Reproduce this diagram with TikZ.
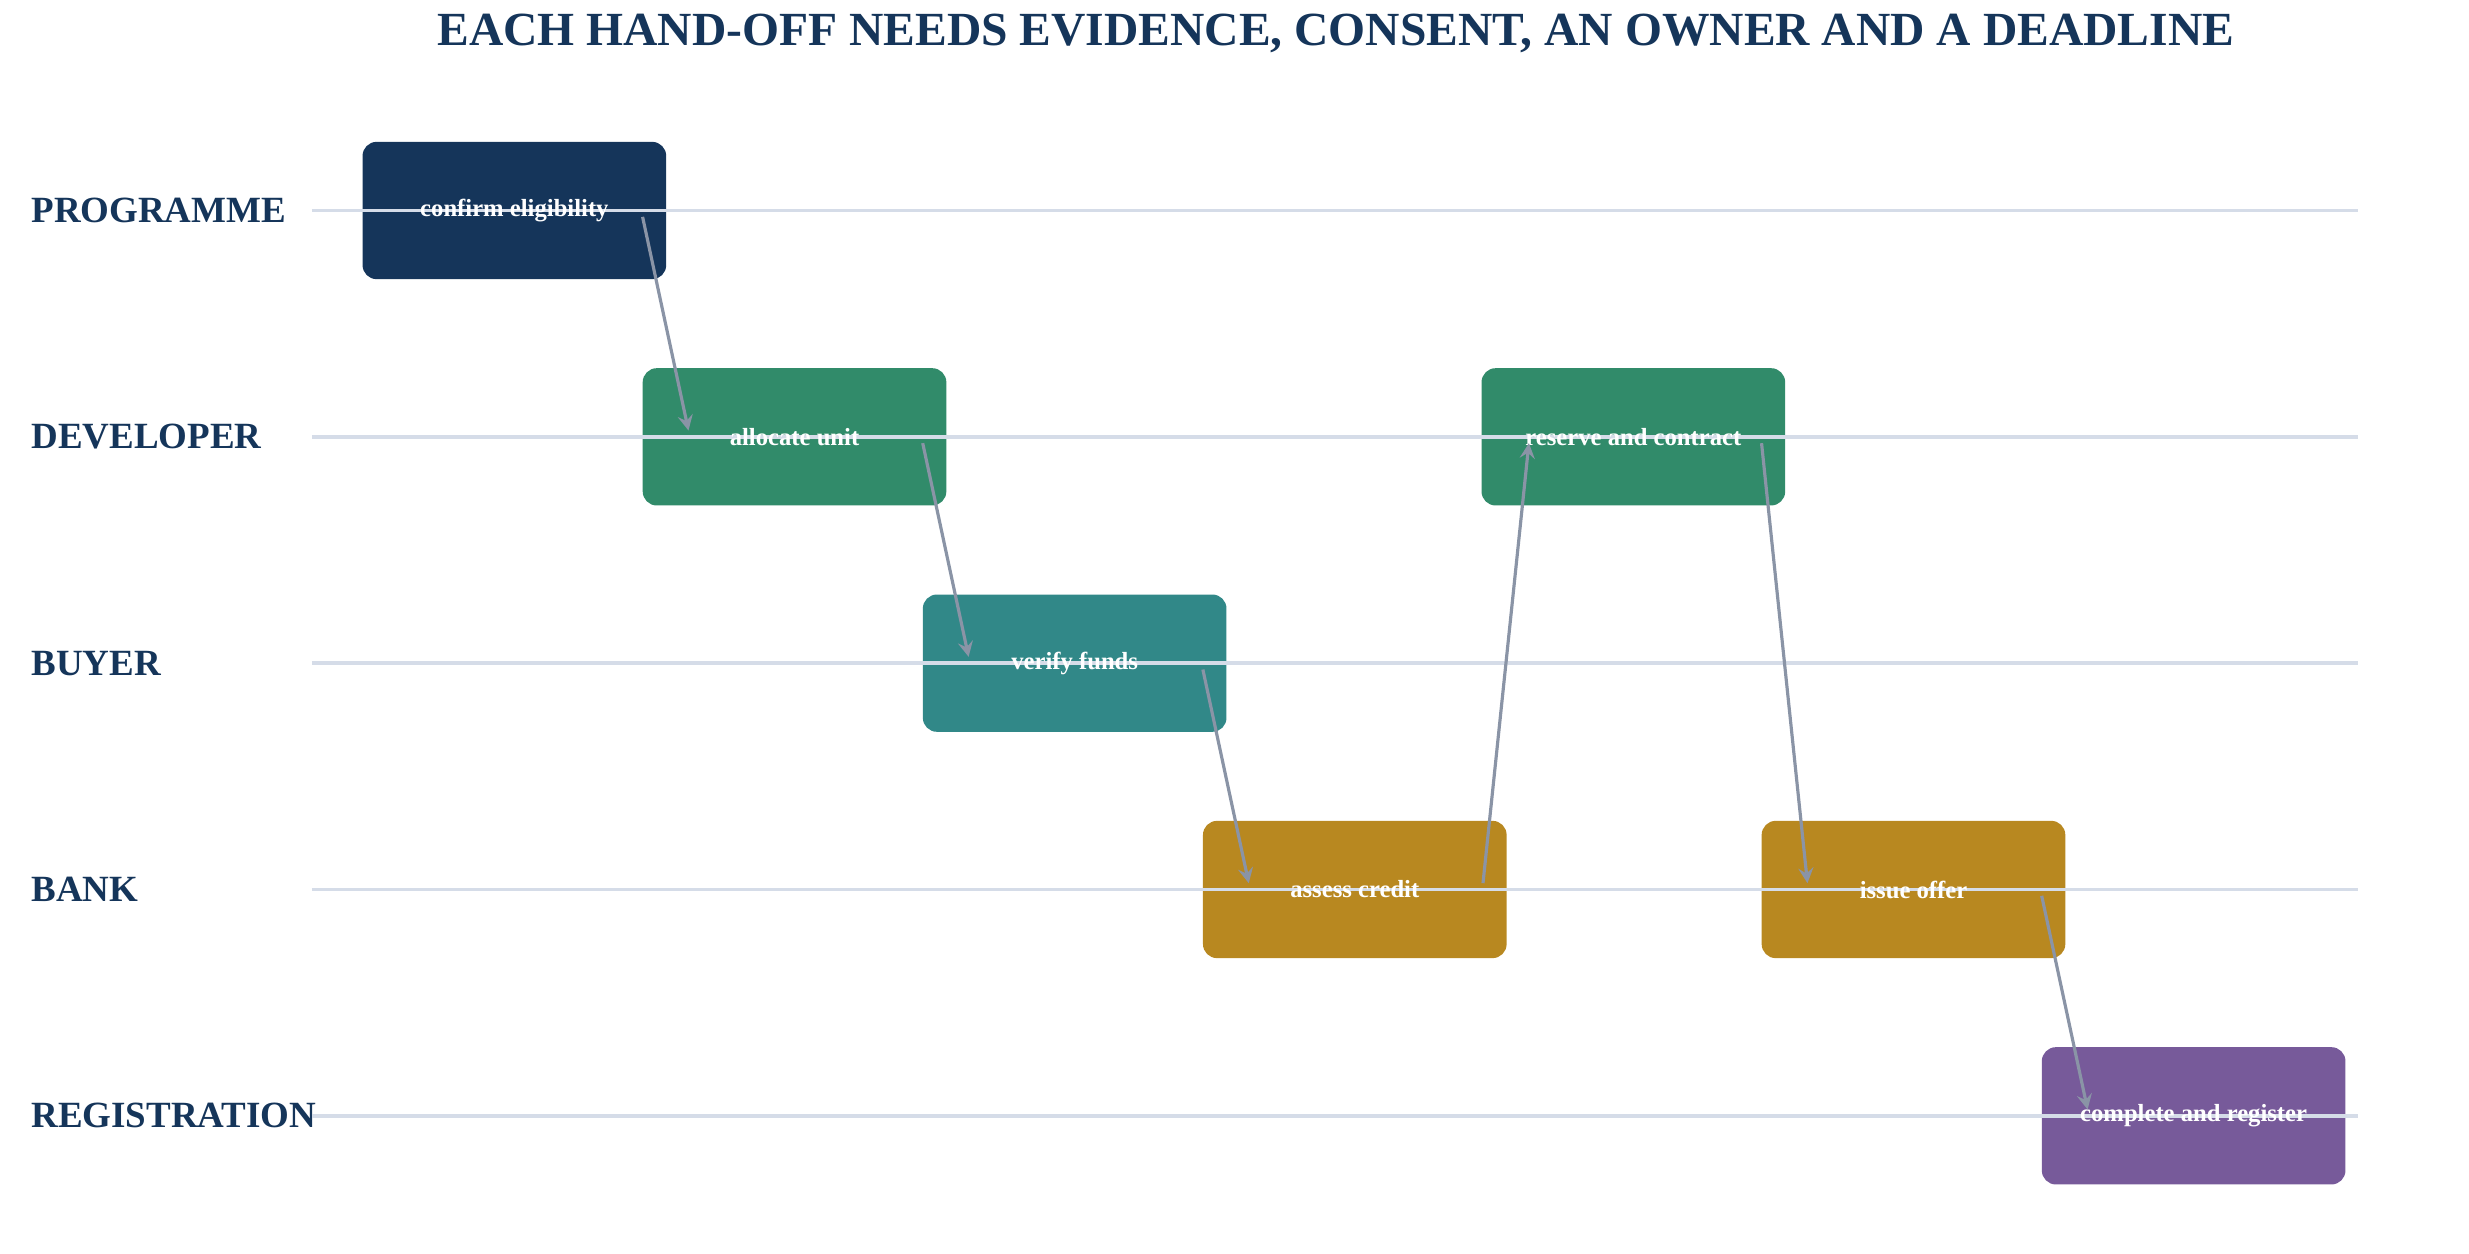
\documentclass[tikz,border=0pt]{standalone}
\usepackage{fontspec}
\setmainfont{Liberation Serif}
\usetikzlibrary{calc,positioning}
\definecolor{navy}{HTML}{15355A}
\definecolor{devgreen}{HTML}{318B6A}
\definecolor{buyteal}{HTML}{318888}
\definecolor{bankgold}{HTML}{B88820}
\definecolor{regpurple}{HTML}{775A9A}
\definecolor{lanegray}{HTML}{D5DCE8}
\definecolor{arrgray}{HTML}{8A94A6}
\tikzset{
  stage/.style={rectangle, rounded corners=4pt, minimum width=3.03cm, minimum height=1.37cm, inner sep=0pt},
  stagetext/.style={text=white, font=\fontsize{7}{8}\selectfont\bfseries},
  lane/.style={anchor=west, text=navy, font=\fontsize{10.5}{12}\selectfont\bfseries},
  laneline/.style={draw=lanegray, line width=1pt},
  hand/.style={->, draw=arrgray, line width=0.9pt, >=stealth},
}
\begin{document}
\begin{tikzpicture}[x=0.0158cm, y=-0.0158cm]
    \useasboundingbox (0,0) rectangle (1560,792);
    \node[text=navy, font=\fontsize{13.5}{16}\selectfont\bfseries] (title) at (844,21) {EACH HAND-OFF NEEDS EVIDENCE, CONSENT, AN OWNER AND A DEADLINE};

    % lanes
    \foreach \name/\y/\txt in {prog/133/PROGRAMME, dev/276/DEVELOPER, buy/419/BUYER, bank/562/BANK, reg/705/REGISTRATION}
      \node[lane] (\name) at (12,\y) {\txt};

    % stages
    \node[stage, fill=navy] (confirm) at (325,133) {};
    \node[stage, fill=devgreen] (allocate) at (502,276) {};
    \node[stage, fill=buyteal] (verify) at (679,419) {};
    \node[stage, fill=bankgold] (assess) at (856,562) {};
    \node[stage, fill=devgreen] (reserve) at (1032,276) {};
    \node[stage, fill=bankgold] (offer) at (1209,562) {};
    \node[stage, fill=regpurple] (complete) at (1386,705) {};

    \foreach \y in {133,276,419,562,705}
      \draw[laneline] (197,\y) -- (1490,\y);

    \node[stagetext] at (confirm) {confirm eligibility};
    \node[stagetext] at (allocate) {allocate unit};
    \node[stagetext] at (verify) {verify funds};
    \node[stagetext] at (assess) {assess credit};
    \node[stagetext] at (reserve) {reserve and contract};
    \node[stagetext] at (offer) {issue offer};
    \node[stagetext] at (complete) {complete and register};

    % hand-offs
    \draw[hand] ($(confirm.center)+(81,4)$) -- ($(allocate.center)+(-67,-4)$);
    \draw[hand] ($(allocate.center)+(81,4)$) -- ($(verify.center)+(-67,-4)$);
    \draw[hand] ($(verify.center)+(81,4)$) -- ($(assess.center)+(-67,-4)$);
    \draw[hand] ($(assess.center)+(81,-4)$) -- ($(reserve.center)+(-66,4)$);
    \draw[hand] ($(reserve.center)+(81,4)$) -- ($(offer.center)+(-67,-4)$);
    \draw[hand] ($(offer.center)+(81,4)$) -- ($(complete.center)+(-67,-4)$);
\end{tikzpicture}
\end{document}
